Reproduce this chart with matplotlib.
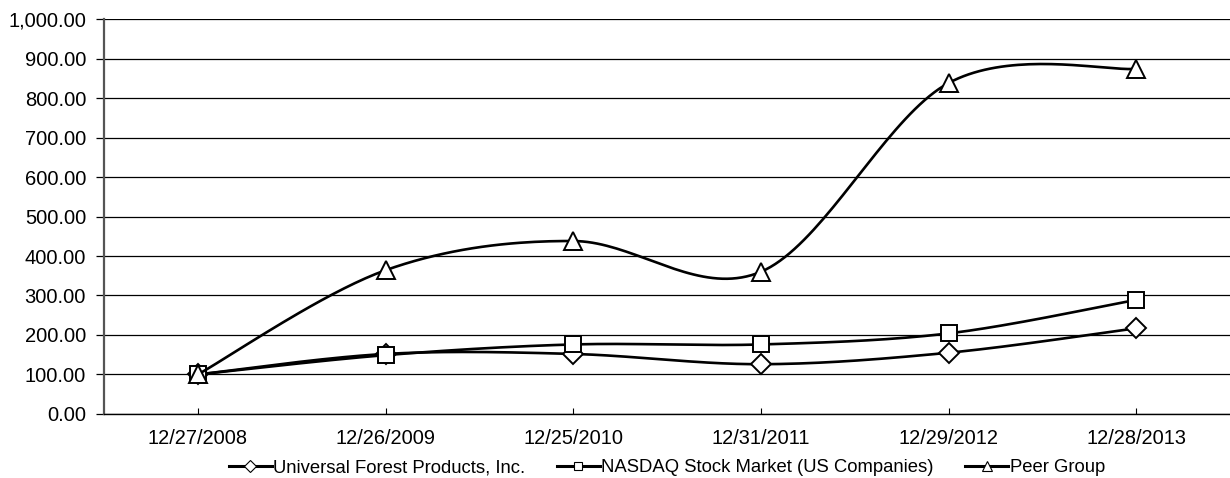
import numpy as np
import matplotlib
matplotlib.use("Agg")
import matplotlib.pyplot as plt
from matplotlib.ticker import FuncFormatter

plt.rcParams['font.family'] = ['Liberation Sans', 'DejaVu Sans']

dates = ['12/27/2008', '12/26/2009', '12/25/2010', '12/31/2011', '12/29/2012', '12/28/2013']
ufp = [100, 152, 152, 126, 155, 217]
nasdaq = [100, 149, 176, 176, 204, 289]
peer = [100, 364, 438, 360, 838, 874]


def smooth(xs, ys, n=40):
    # excel style smoothing (catmull-rom as bezier)
    pts = np.column_stack([xs, ys]).astype(float)
    out = []
    for i in range(len(pts) - 1):
        p0 = pts[max(i - 1, 0)]
        p1 = pts[i]
        p2 = pts[i + 1]
        p3 = pts[min(i + 2, len(pts) - 1)]
        c1 = p1 + (p2 - p0) / 6
        c2 = p2 - (p3 - p1) / 6
        t = np.linspace(0, 1, n)[:, None]
        seg = ((1 - t) ** 3) * p1 + 3 * ((1 - t) ** 2) * t * c1 + 3 * (1 - t) * t ** 2 * c2 + t ** 3 * p2
        out.append(seg if i == 0 else seg[1:])
    seg = np.vstack(out)
    return seg[:, 0], seg[:, 1]


fig = plt.figure(figsize=(12.3, 4.78), dpi=100)
ax = fig.add_axes([0.0846, 0.134, 0.9154, 0.826])

x = np.arange(len(dates))
series = [
    (ufp, 'D', 10.5, 'Universal Forest Products, Inc.'),
    (nasdaq, 's', 11, 'NASDAQ Stock Market (US Companies)'),
    (peer, '^', 13, 'Peer Group'),
]
handles = []
for i, (vals, mk, ms, label) in enumerate(series):
    sx, sy = smooth(x, vals)
    ax.plot(sx, sy, color='black', lw=1.9, zorder=3 + i)
    ax.plot(x, vals, ls='none', marker=mk, ms=ms, mfc='white',
            mec='black', mew=1.4, zorder=3 + i)
    h, = ax.plot([], [], color='black', lw=2.2, marker=mk, ms=6 if mk != '^' else 7,
                 mfc='white', mec='black', mew=0.8, label=label)
    handles.append(h)

ax.set_xlim(-0.5, 5.5)
ax.set_ylim(0, 1000)
ax.set_yticks(np.arange(0, 1001, 100))
ax.yaxis.set_major_formatter(FuncFormatter(lambda v, p: f'{v:,.2f}'))
ax.set_xticks(x)
ax.set_xticklabels(dates)
ax.grid(axis='y', color='black', lw=0.9)
ax.set_axisbelow(True)

for s in ['top', 'right']:
    ax.spines[s].set_visible(False)
ax.spines['left'].set_color('#555555')
ax.spines['left'].set_linewidth(1.6)
ax.spines['bottom'].set_color('black')
ax.spines['bottom'].set_linewidth(1.0)
ax.tick_params(axis='y', direction='out', length=6, width=0.9, labelsize=14.5, pad=7)
ax.tick_params(axis='x', direction='in', length=4, width=0.8, labelsize=14.4, pad=11)

ax.legend(handles=handles, loc='center', bbox_to_anchor=(667 / 1230, 10 / 478),
          bbox_transform=fig.transFigure, ncol=3, frameon=False, fontsize=13.3,
          handlelength=2.3, handletextpad=0.1, columnspacing=1.7, borderaxespad=0)

fig.savefig('out.png', dpi=100)
